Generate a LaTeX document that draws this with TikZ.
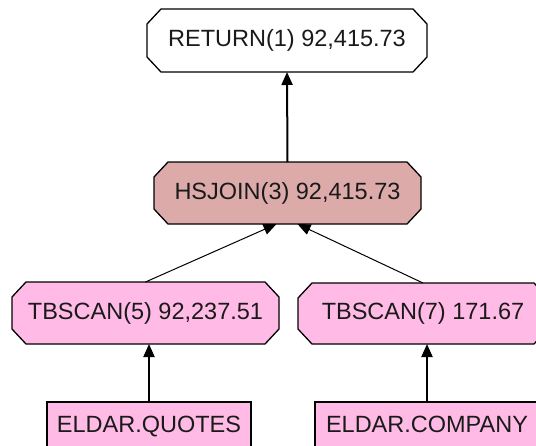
\documentclass[tikz,border=0pt]{standalone}
\usepackage{fontspec}
\setmainfont{Liberation Sans}
\usetikzlibrary{arrows.meta,calc,backgrounds}
\definecolor{opfill}{HTML}{DDAAAA}
\definecolor{scanfill}{HTML}{FFBBE6}
\definecolor{ink}{HTML}{1A1A1A}
\tikzset{
  x=1pt, y=1pt,
  planbox/.style={rectangle, inner sep=0pt, outer sep=0pt, text=ink,
    font=\fontsize{23.5}{28}\selectfont},
  tablebox/.style={rectangle, draw=black, line width=1.3pt, fill=scanfill,
    inner sep=0pt, outer sep=0pt, text=ink, font=\fontsize{23.5}{28}\selectfont},
  octline/.style={draw=black, line width=1.3pt, line join=miter},
  flowup/.style={-{Triangle[width=11pt,length=13pt]}, line width=2pt, draw=black},
  flowslant/.style={-{Triangle[width=11pt,length=13pt]}, line width=1pt, draw=black}
}
% octagonal outline behind an operator node
\newcommand\opoutline[2]{%
  \path[octline, fill=#2]
    ($(#1.north west)+(14,0)$) -- ($(#1.north east)+(-14,0)$)
    -- ($(#1.north east)+(0,-15)$) -- ($(#1.south east)+(0,15)$)
    -- ($(#1.south east)+(-14,0)$) -- ($(#1.south west)+(14,0)$)
    -- ($(#1.south west)+(0,15)$) -- ($(#1.north west)+(0,-15)$) -- cycle;}
\begin{document}
\begin{tikzpicture}
\useasboundingbox (0,0) rectangle (536,-445);
% operator nodes
\node[planbox, minimum width=280pt, minimum height=63pt] (ret) at (287,-40.5) {RETURN(1) 92,415.73};
\node[planbox, minimum width=267pt, minimum height=62pt] (hs) at (287.5,-193) {HSJOIN(3) 92,415.73};
\node[planbox, minimum width=267pt, minimum height=62pt] (tb5) at (145.5,-313) {TBSCAN(5) 92,237.51};
\node[planbox, minimum width=250pt, minimum height=61pt] (tb7) at (423,-313.5) {TBSCAN(7) 171.67};
\begin{scope}[on background layer]
  \opoutline{ret}{white}
  \opoutline{hs}{opfill}
  \opoutline{tb5}{scanfill}
  \opoutline{tb7}{scanfill}
\end{scope}
% base tables
\node[tablebox, minimum width=204pt, minimum height=50pt, anchor=north] (quotes) at (149,-402) {\raisebox{-5pt}[0pt][0pt]{ELDAR.QUOTES}};
\node[tablebox, minimum width=224pt, minimum height=50pt, anchor=north] (company) at (427,-402) {\raisebox{-5pt}[0pt][0pt]{ELDAR.COMPANY}};
% data flow
\draw[flowup] (hs.north) -- (ret.south);
\draw[flowslant] (tb5.north) -- ($(hs.south)+(-11,0)$);
\draw[flowslant] (tb7.north) -- ($(hs.south)+(10,0)$);
\draw[flowup] (quotes.north) -- (quotes.north |- tb5.south);
\draw[flowup] (company.north) -- (company.north |- tb7.south);
\end{tikzpicture}
\end{document}
